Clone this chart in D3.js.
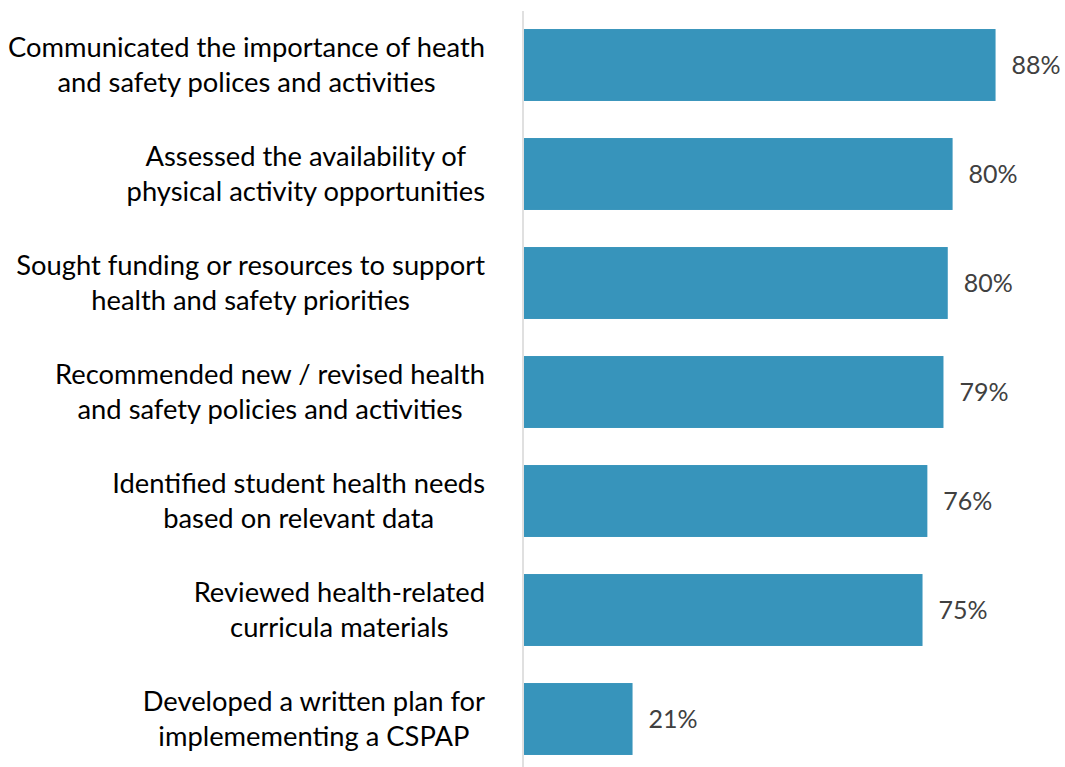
<!DOCTYPE html>
<html>
<head>
<meta charset="utf-8">
<script src="https://cdn.jsdelivr.net/npm/d3@7"></script>
<style>
  html, body { margin: 0; padding: 0; background: #fff; }
  svg { display: block; }
</style>
</head>
<body>
<svg id="chart" width="1065" height="767"></svg>
<script>
// ---- data ----
const categories = [
  ["Communicated the importance of heath", "and safety polices and activities"],
  ["Assessed the availability of", "physical activity opportunities"],
  ["Sought funding or resources to support", "health and safety priorities"],
  ["Recommended new / revised health", "and safety policies and activities"],
  ["Identified student health needs", "based on relevant data"],
  ["Reviewed health-related", "curricula materials"],
  ["Developed a written plan for", "implemementing a CSPAP"]
];
const values = [88.0, 80.0, 79.1, 78.3, 75.3, 74.4, 20.4];
const valueLabels = ["88%", "80%", "80%", "79%", "76%", "75%", "21%"];

// ---- layout ----
const W = 1065, H = 767;
const svg = d3.select("#chart");
const FONT = "Lato, 'Open Sans', sans-serif";
const ids = d3.range(categories.length);

const x = d3.scaleLinear().domain([0, 100]).range([523, 1060]);
const y = d3.scaleBand().domain(ids).range([10.5, 773.5]).paddingInner(0.34).paddingOuter(0.17);

// bars
svg.append("g").selectAll("rect").data(ids).join("rect")
  .attr("x", x(0) + 1)
  .attr("y", i => y(i))
  .attr("width", i => x(values[i]) - x(0) - 1)
  .attr("height", y.bandwidth())
  .attr("fill", "#3794bb");

// axis line (category axis)
const yAxis = d3.axisLeft(y).tickSize(0).tickFormat(() => "");
const ag = svg.append("g").attr("transform", `translate(${x(0)},0)`).call(yAxis);
ag.select(".domain").attr("stroke", "#d9d9d9").attr("stroke-width", 1.6)
  .attr("d", `M0,11V${H}`);

// value labels
svg.append("g").selectAll("text").data(ids).join("text")
  .attr("x", i => x(values[i]) + 16)
  .attr("y", i => y(i) + y.bandwidth() / 2)
  .attr("dy", "0.35em")
  .attr("font-family", FONT)
  .attr("font-size", 25)
  .attr("fill", "#404040")
  .text(i => valueLabels[i]);

// category labels (two lines, centred on each other, block right-aligned)
const labelG = svg.append("g");
const probe = labelG.append("text").attr("font-family", FONT).attr("font-size", 24)
  .text(categories[0][0]);
const pw = probe.node().getComputedTextLength();
probe.remove();
const catSize = 24 * 477 / pw;
const lineGap = 35.5;
const rightEdge = 485;

ids.forEach(i => {
  const lines = categories[i];
  const g = labelG.append("g");
  const ts = lines.map((l, k) => g.append("text")
    .attr("font-family", FONT)
    .attr("font-size", catSize)
    .attr("fill", "#000")
    .attr("text-anchor", "middle")
    .attr("y", y(i) + y.bandwidth() / 2 + (k - (lines.length - 1) / 2) * lineGap)
    .attr("dy", "0.35em")
    .text(l));
  const maxW = d3.max(ts, t => t.node().getComputedTextLength());
  ts.forEach(t => t.attr("x", rightEdge - maxW / 2));
});
</script>
</body>
</html>
